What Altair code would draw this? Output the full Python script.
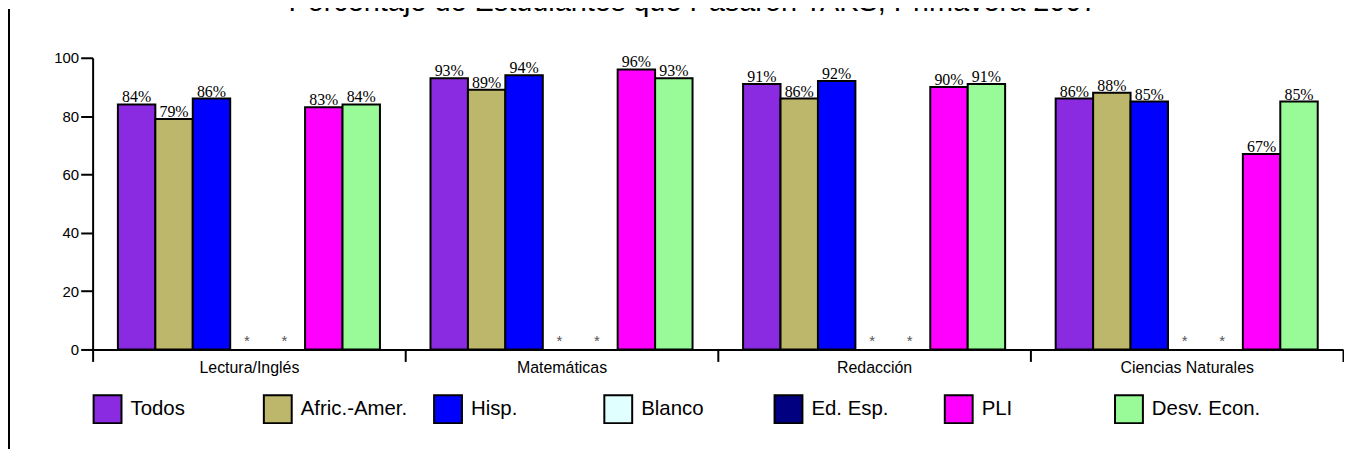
import altair as alt
import pandas as pd

title_text = "Porcentaje de Estudiantes que Pasaron TAKS, Primavera 2007"
subjects = ["Lectura/Inglés", "Matemáticas", "Redacción", "Ciencias Naturales"]
groups = ["Todos", "Afric.-Amer.", "Hisp.", "Blanco", "Ed. Esp.", "PLI", "Desv. Econ."]
colors = ["#8A2BE2", "#BDB76B", "#0000FF", "#E0FFFF", "#000080", "#FF00FF", "#98FB98"]
lectura = [84, 79, 86, None, None, 83, 84]
matematicas = [93, 89, 94, None, None, 96, 93]
redaccion = [91, 86, 92, None, None, 90, 91]
ciencias = [86, 88, 85, None, None, 67, 85]
y_ticks = [0, 20, 40, 60, 80, 100]

rows = []
for subj, vals in zip(subjects, [lectura, matematicas, redaccion, ciencias]):
    for g, v in zip(groups, vals):
        rows.append({
            "materia": subj,
            "grupo": g,
            "valor": v,
            "etiqueta": f"{v}%" if v is not None else "*",
        })
df = pd.DataFrame(rows)

W, H = 1256, 293

x_enc = alt.X(
    "materia:N",
    scale=alt.Scale(domain=subjects, paddingInner=0, paddingOuter=0),
    axis=alt.Axis(
        title=None, labelAngle=0, tickBand="extent",
        domainColor="black", domainWidth=2,
        tickColor="black", tickWidth=2, tickSize=12,
        labelFont="Liberation Sans", labelFontSize=16, labelColor="black",
        labelPadding=-2,
    ),
)
xo_enc = alt.XOffset(
    "grupo:N",
    scale=alt.Scale(domain=groups, paddingInner=0, paddingOuter=0.675),
)

base = alt.Chart(df).encode(x=x_enc, xOffset=xo_enc)

bars = base.transform_filter("isValid(datum.valor)").mark_bar(
    stroke="black", strokeWidth=2
).encode(
    y=alt.Y(
        "valor:Q",
        scale=alt.Scale(domain=[0, 100], nice=False),
        axis=alt.Axis(
            title=None, values=y_ticks, grid=False,
            domainColor="black", domainWidth=2,
            tickColor="black", tickWidth=2, tickSize=12,
            labelFont="Liberation Sans", labelFontSize=15, labelColor="black",
            labelPadding=2,
        ),
    ),
    color=alt.Color(
        "grupo:N",
        scale=alt.Scale(domain=groups, range=colors),
        legend=alt.Legend(
            title=None, orient="none", legendX=0, legendY=338,
            direction="horizontal", columns=7, gridAlign="all",
            columnPadding=21, symbolType="square", symbolSize=784,
            symbolStrokeColor="black", symbolStrokeWidth=2, symbolOpacity=1,
            labelFont="Liberation Sans", labelFontSize=20.5, labelColor="black",
            labelOffset=8, padding=0,
        ),
    ),
)

labels = base.transform_filter("isValid(datum.valor)").mark_text(
    baseline="alphabetic", dy=-2, font="Liberation Serif", fontSize=16, color="black"
).encode(y="valor:Q", text="etiqueta:N")

stars = base.transform_filter("!isValid(datum.valor)").mark_text(
    baseline="alphabetic", dy=-3, dx=-2, font="Liberation Sans", fontSize=15, color="#555555"
).encode(y=alt.datum(0), text="etiqueta:N")

border = alt.Chart(pd.DataFrame({"k": [0]})).mark_rule(
    color="black", strokeWidth=2
).encode(x=alt.value(-84), y=alt.value(-49), y2=alt.value(H + 100))

title = alt.Chart(pd.DataFrame({"titulo": [title_text]})).mark_text(
    baseline="alphabetic", align="center", font="Liberation Sans", fontSize=29, color="black"
).encode(x=alt.value(W / 2 - 25), y=alt.value(-47), text="titulo:N")

chart = alt.layer(border, bars, labels, stars, title).properties(
    width=W,
    height=H,
    padding={"left": 85, "top": 49, "right": 1, "bottom": 100},
    autosize=alt.AutoSizeParams(type="none"),
).configure_view(stroke=None)

chart.save("out.html", embed_options={"renderer": "svg", "actions": False})
